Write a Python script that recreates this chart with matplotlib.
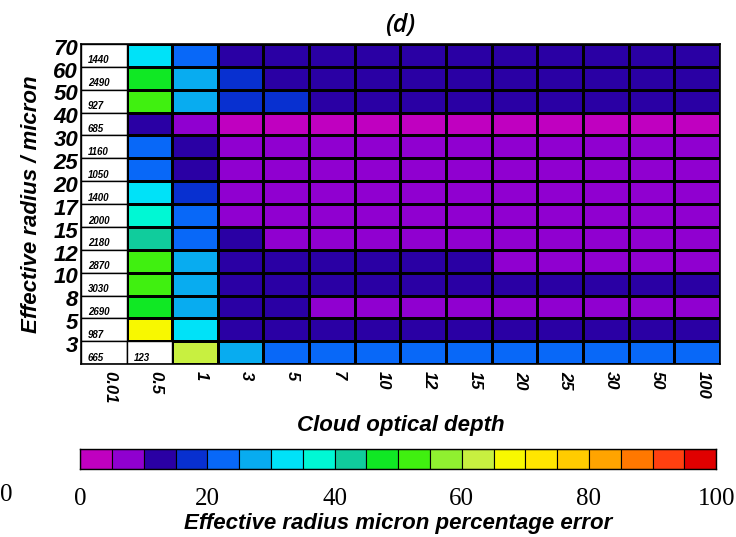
import numpy as np
import matplotlib
matplotlib.use("Agg")
import matplotlib.pyplot as plt
from matplotlib.colors import ListedColormap, BoundaryNorm
from matplotlib import font_manager as fm

# ---------------- data ----------------
tau_labels = ['0.01', '0.5', '1', '3', '5', '7', '10', '12', '15', '20', '25', '30', '50', '100']
re_labels = ['70', '60', '50', '40', '30', '25', '20', '17', '15', '12', '10', '8', '5', '3']
n_samples = ['1440', '2490', '927', '685', '1160', '1050', '1400', '2000', '2180',
             '2870', '3030', '2690', '987', '665']
extra_count = '123'   # row re=3, tau=0.5

nan = np.nan
row_70 = [nan, 32, 22] + [13] * 11
row_60 = [nan, 47, 28, 17] + [13] * 10
row_50 = [nan, 52, 28, 17, 17] + [13] * 9
row_40 = [nan, 13, 8] + [3] * 11
row_30 = [nan, 22, 13] + [8] * 11
row_25 = [nan, 22, 13] + [8] * 11
row_20 = [nan, 32, 17] + [8] * 11
row_17 = [nan, 37, 22] + [8] * 11
row_15 = [nan, 42, 22, 13] + [8] * 10
row_12 = [nan, 52, 28] + [13] * 6 + [8] * 5
row_10 = [nan, 52, 28] + [13] * 11
row_8 = [nan, 48, 28, 13, 13] + [8] * 9
row_5 = [nan, 67, 32] + [13] * 11
row_3 = [nan, nan, 62, 28] + [22] * 10

err_pct = np.array([row_70, row_60, row_50, row_40, row_30, row_25, row_20,
                    row_17, row_15, row_12, row_10, row_8, row_5, row_3], dtype=float)

cbar_ticks = [0, 20, 40, 60, 80, 100]
bin_colors = ['#c000c0', '#9000d0', '#2a00a4', '#0830d0', '#0868f8', '#08acf0',
              '#00e2f8', '#00f8d4', '#10cc9c', '#10e824', '#40f010', '#90f030',
              '#c8f040', '#f8f800', '#ffe600', '#ffcc00', '#ffa400', '#ff7800',
              '#ff4010', '#e00000']

# ---------------- fonts ----------------
def pick(*names):
    for n in names:
        try:
            fm.findfont(fm.FontProperties(family=n), fallback_to_default=False)
            return n
        except Exception:
            continue
    return 'DejaVu Sans'

narrow = pick('Liberation Sans Narrow', 'Liberation Sans')
serif = pick('Liberation Serif', 'DejaVu Serif')
title_font = pick('Open Sans', 'Noto Sans', 'DejaVu Sans')

# ---------------- figure ----------------
fig = plt.figure(figsize=(7.36, 5.37), dpi=100)
ax = fig.add_axes([0.110, 0.322, 0.868, 0.596])

cmap = ListedColormap(bin_colors)
cmap.set_bad('white')
norm = BoundaryNorm(np.linspace(0, 100, 21), cmap.N)

nrow, ncol = err_pct.shape
xe = np.arange(ncol + 1)
ye = np.arange(nrow + 1)
ax.pcolormesh(xe, ye, np.ma.masked_invalid(err_pct), cmap=cmap, norm=norm,
              edgecolor='black', linewidth=1.0)
for i in range(nrow):
    for j in range(ncol):
        if np.isnan(err_pct[i, j]):
            ax.add_patch(plt.Rectangle((j, i), 1, 1, facecolor='white',
                                       edgecolor='black', linewidth=1.0, zorder=1))

ax.set_xlim(0, ncol)
ax.set_ylim(nrow, 0)

for i, s in enumerate(n_samples):
    ax.text(0.15, i + 0.72, s, fontsize=7, fontstyle='italic', family=narrow,
            fontweight='bold', ha='left', va='center', zorder=3)
ax.text(1.15, nrow - 1 + 0.72, extra_count, fontsize=7, fontstyle='italic',
        family=narrow, fontweight='bold', ha='left', va='center', zorder=3)

ax.set_xticks(np.arange(ncol) + 0.63)
ax.set_xticklabels(tau_labels, rotation=-90, fontsize=12, family=narrow,
                   fontstyle='italic', fontweight='bold', va='top', ha='center')
ax.set_yticks(np.arange(nrow) + 0.12)
ax.set_yticklabels(re_labels, fontsize=16, family=narrow, fontstyle='italic',
                   fontweight='bold')
ax.tick_params(axis='y', length=0, pad=2)
ax.tick_params(axis='x', length=0, pad=5)
for sp in ax.spines.values():
    sp.set_linewidth(1.2)

ax.set_xlabel('Cloud optical depth', fontsize=16, family=narrow,
              fontstyle='italic', fontweight='bold', labelpad=8)
ax.set_ylabel('Effective radius / micron', fontsize=16, family=narrow,
              fontstyle='italic', fontweight='bold', labelpad=8)
ax.set_title('(d)', fontsize=18, family=title_font, fontstyle='italic',
             fontweight='semibold', pad=9)

# ---------------- colorbar ----------------
cax = fig.add_axes([0.109, 0.127, 0.864, 0.037])
levels = np.linspace(0, 100, 21)
for k in range(20):
    cax.add_patch(plt.Rectangle((levels[k], 0), 5, 1, facecolor=bin_colors[k],
                                edgecolor='black', linewidth=0.8))
cax.set_xlim(0, 100)
cax.set_ylim(0, 1)
cax.set_yticks([])
cax.set_xticks(cbar_ticks)
cax.set_xticklabels([str(t) for t in cbar_ticks], fontsize=18, family=serif)
cax.tick_params(length=0, pad=14)
for sp in cax.spines.values():
    sp.set_linewidth(1.0)
cax.set_xlabel('Effective radius micron percentage error', fontsize=16,
               family=narrow, fontstyle='italic', fontweight='bold', labelpad=2)

# label of a neighbouring panel at the left edge
fig.text(0.0, 1 - 495 / 537, '0', fontsize=18, family=serif, ha='left', va='center')

fig.savefig('out.png', dpi=100)
